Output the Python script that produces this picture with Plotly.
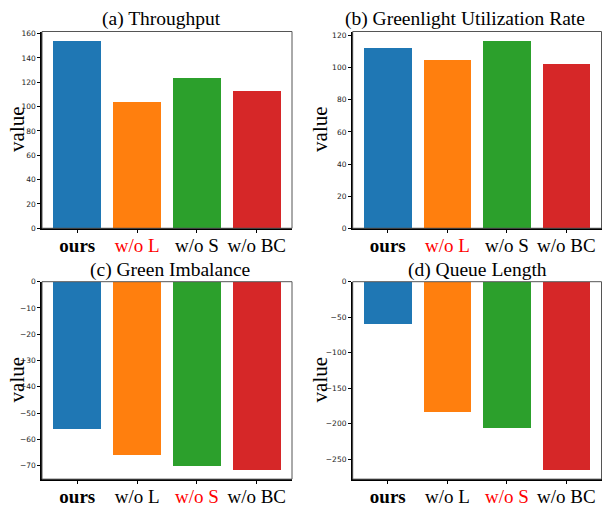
import plotly.graph_objects as go

W, H = 602, 508

categories = ["ours", "w/o L", "w/o S", "w/o BC"]
colors = ["#1f77b4", "#ff7f0e", "#2ca02c", "#d62728"]

throughput = [154.0, 104.2, 124.3, 113.0]
greenlight_util = [112.4, 105.1, 116.7, 102.8]
green_imbalance = [-56.0, -66.0, -70.2, -71.6]
queue_length = [-59.0, -182.5, -205.5, -265.0]

titles = ["(a) Throughput", "(b) Greenlight Utilization Rate",
          "(c) Green Imbalance", "(d) Queue Length"]
# which category label is highlighted red in each panel
red_idx = [1, 1, 2, 2]
dticks = [20, 20, 10, 50]

series = [throughput, greenlight_util, green_imbalance, queue_length]

# pixel boxes of axes: (left, right, top, bottom)
boxes = [(42, 292, 28, 228.3), (352.7, 601.5, 28, 228.3),
         (42, 292, 282.7, 483.7), (352.7, 601.5, 282.7, 483.7)]
title_x = [161.5, 465, 170, 477.5]
title_y = [15, 15, 270.5, 270.5]
value_x = [17, 320, 17, 320]

fig = go.Figure()
shapes = []
annotations = []
for i, vals in enumerate(series):
    n = i + 1
    xa = "x" if n == 1 else f"x{n}"
    ya = "y" if n == 1 else f"y{n}"
    fig.add_trace(go.Bar(x=list(range(len(categories))), y=vals, marker_color=colors,
                         marker_line_width=0, width=0.8, xaxis=xa, yaxis=ya,
                         showlegend=False, hoverinfo="skip"))
    l, r, t, b = boxes[i]
    xd = [l / W, r / W]
    yd = [1 - b / H, 1 - t / H]
    ticktext = []
    for j, c in enumerate(categories):
        if j == 0:
            ticktext.append("<b>ours</b>")
        elif j == red_idx[i]:
            ticktext.append(f"<span style='color:#ff0000'>{c}</span>")
        else:
            ticktext.append(c)
    vmax = max(vals)
    vmin = min(vals)
    if vmax > 0:
        yr = [0, vmax * 1.05]
    else:
        yr = [vmin * 1.05, 0]
    xkey = "xaxis" if n == 1 else f"xaxis{n}"
    ykey = "yaxis" if n == 1 else f"yaxis{n}"
    fig.update_layout({
        xkey: dict(domain=xd, anchor=ya, range=[-0.59, 3.59], tickvals=list(range(4)),
                   ticktext=ticktext, showgrid=False, zeroline=False,
                   showline=True, linecolor="black", linewidth=1.5,
                   ticks="outside", ticklen=3, tickcolor="black", ticklabelstandoff=-4,
                   tickfont=dict(family="Liberation Serif", size=19, color="black")),
        ykey: dict(domain=yd, anchor=xa, range=yr, dtick=dticks[i], showgrid=False,
                   zeroline=False, showline=True, linecolor="black", linewidth=1.5,
                   ticks="outside", ticklen=3, tickcolor="black",
                   tickfont=dict(family="DejaVu Sans", size=7.5, color="#222222")),
    })
    shapes.append(dict(type="rect", xref="paper", yref="paper", x0=xd[0], x1=xd[1],
                       y0=yd[0], y1=yd[1], line=dict(color="#555555", width=1),
                       layer="above"))
    annotations.append(dict(text=titles[i], x=title_x[i] / W, y=1 - title_y[i] / H,
                            xref="paper", yref="paper", showarrow=False,
                            xanchor="center", yanchor="middle",
                            font=dict(family="Liberation Serif", size=19.5, color="black")))
    annotations.append(dict(text="value", x=value_x[i] / W, y=(yd[0] + yd[1]) / 2,
                            xref="paper", yref="paper", showarrow=False, textangle=-90,
                            xanchor="center", yanchor="middle",
                            font=dict(family="Liberation Serif", size=21, color="black")))

fig.update_layout(width=W, height=H, margin=dict(l=0, r=0, t=0, b=0),
                  plot_bgcolor="white", paper_bgcolor="white", bargap=0,
                  shapes=shapes, annotations=annotations)

fig.write_html("out.html", config={"displayModeBar": False},
               post_script="document.body.style.margin='0';document.body.style.overflow='hidden';")
